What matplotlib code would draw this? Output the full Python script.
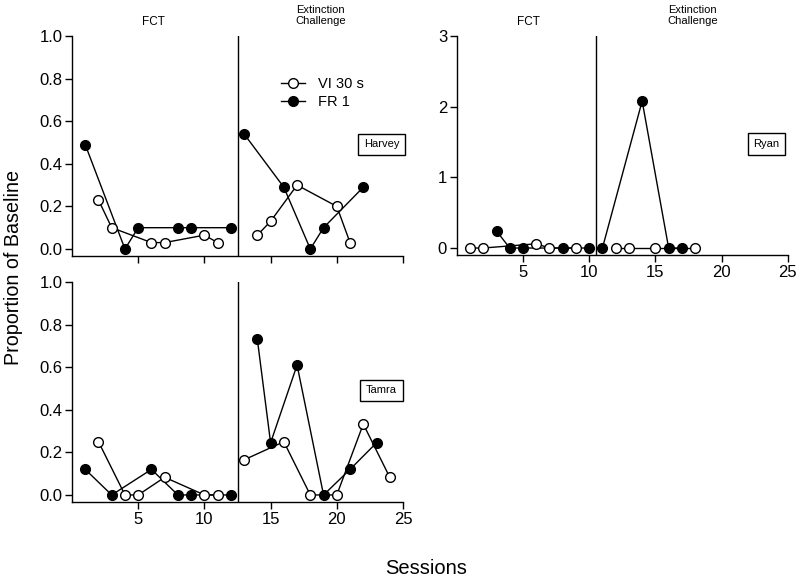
import matplotlib
matplotlib.use("Agg")
import matplotlib.pyplot as plt

plt.rcParams['font.family'] = ['Liberation Sans', 'DejaVu Sans']

# sessions / proportion of baseline, per subject, per schedule, per phase
harvey_vi_fct_x = [2, 3, 6, 7, 10, 11]
harvey_vi_fct_y = [0.23, 0.10, 0.03, 0.03, 0.065, 0.03]
harvey_fr_fct_x = [1, 4, 5, 8, 9, 12]
harvey_fr_fct_y = [0.49, 0.0, 0.10, 0.10, 0.10, 0.10]
harvey_vi_ext_x = [14, 15, 17, 20, 21]
harvey_vi_ext_y = [0.065, 0.13, 0.30, 0.20, 0.03]
harvey_fr_ext_x = [13, 16, 18, 19, 22]
harvey_fr_ext_y = [0.54, 0.29, 0.0, 0.10, 0.29]

ryan_vi_fct_x = [1, 2, 6, 7, 9]
ryan_vi_fct_y = [0, 0, 0.06, 0, 0]
ryan_fr_fct_x = [3, 4, 5, 8, 10]
ryan_fr_fct_y = [0.24, 0, 0, 0, 0]
ryan_vi_ext_x = [12, 13, 15, 18]
ryan_vi_ext_y = [0, 0, 0, 0]
ryan_fr_ext_x = [11, 14, 16, 17]
ryan_fr_ext_y = [0, 2.08, 0, 0]

tamra_vi_fct_x = [2, 4, 5, 7, 10, 11]
tamra_vi_fct_y = [0.25, 0, 0, 0.083, 0, 0]
tamra_fr_fct_x = [1, 3, 6, 8, 9, 12]
tamra_fr_fct_y = [0.12, 0, 0.12, 0, 0, 0]
tamra_vi_ext_x = [13, 16, 18, 20, 22, 24]
tamra_vi_ext_y = [0.165, 0.25, 0, 0, 0.333, 0.083]
tamra_fr_ext_x = [14, 15, 17, 19, 21, 23]
tamra_fr_ext_y = [0.73, 0.245, 0.61, 0, 0.12, 0.245]

x_ticks = [5, 10, 15, 20, 25]

fig = plt.figure(figsize=(8, 5.8), dpi=100)
ax_h = fig.add_axes([0.09, 0.5586, 0.41375, 0.3793])
ax_r = fig.add_axes([0.571, 0.5603, 0.41375, 0.3776])
ax_t = fig.add_axes([0.09, 0.1345, 0.41375, 0.3793])

open_kw = dict(color='black', lw=1, marker='o', ms=7, mfc='white', mec='black', mew=1)
fill_kw = dict(color='black', lw=1, marker='o', ms=7, mfc='black', mec='black', mew=1)


def draw(ax, vi, fr, phase_x, ymax, yticks, yfmt, name, xlabels):
    for xs, ys in fr:
        ax.plot(xs, ys, clip_on=False, zorder=3, **fill_kw)
    for xs, ys in vi:
        ax.plot(xs, ys, clip_on=False, zorder=4, **open_kw)
    ax.axvline(phase_x, color='black', lw=1)
    ax.set_xlim(0, 25)
    ax.set_ylim(-0.033 * ymax, ymax)
    ax.set_xticks(x_ticks)
    if xlabels:
        ax.set_xticklabels([str(t) for t in x_ticks])
    else:
        ax.set_xticklabels([])
    ax.set_yticks(yticks)
    ax.set_yticklabels([yfmt % v for v in yticks])
    for s in ['top', 'right']:
        ax.spines[s].set_visible(False)
    for s in ['left', 'bottom']:
        ax.spines[s].set_linewidth(1)
    ax.tick_params(direction='out', length=5, width=1, labelsize=12, pad=2)
    ax.text(0.935, 0.507, name, transform=ax.transAxes, ha='center', va='center',
            fontsize=8, bbox=dict(boxstyle='square,pad=0.5', fc='white', ec='black', lw=1))


draw(ax_h,
     [(harvey_vi_fct_x, harvey_vi_fct_y), (harvey_vi_ext_x, harvey_vi_ext_y)],
     [(harvey_fr_fct_x, harvey_fr_fct_y), (harvey_fr_ext_x, harvey_fr_ext_y)],
     12.5, 1.0, [0, 0.2, 0.4, 0.6, 0.8, 1.0], '%.1f', 'Harvey', False)
draw(ax_r,
     [(ryan_vi_fct_x, ryan_vi_fct_y), (ryan_vi_ext_x, ryan_vi_ext_y)],
     [(ryan_fr_fct_x, ryan_fr_fct_y), (ryan_fr_ext_x, ryan_fr_ext_y)],
     10.5, 3.0, [0, 1, 2, 3], '%d', 'Ryan', True)
draw(ax_t,
     [(tamra_vi_fct_x, tamra_vi_fct_y), (tamra_vi_ext_x, tamra_vi_ext_y)],
     [(tamra_fr_fct_x, tamra_fr_fct_y), (tamra_fr_ext_x, tamra_fr_ext_y)],
     12.5, 1.0, [0, 0.2, 0.4, 0.6, 0.8, 1.0], '%.1f', 'Tamra', True)

# phase labels
ax_h.text(0.245, 1.064, 'FCT', transform=ax_h.transAxes, ha='center', va='center', fontsize=8.5)
ax_h.text(0.752, 1.095, 'Extinction\nChallenge', transform=ax_h.transAxes, ha='center',
          va='center', fontsize=8, linespacing=1.15)
ax_r.text(0.215, 1.064, 'FCT', transform=ax_r.transAxes, ha='center', va='center', fontsize=8.5)
ax_r.text(0.713, 1.095, 'Extinction\nChallenge', transform=ax_r.transAxes, ha='center',
          va='center', fontsize=8, linespacing=1.15)

# legend
h_vi, = ax_h.plot([], [], **open_kw)
h_fr, = ax_h.plot([], [], **fill_kw)
ax_h.legend([h_vi, h_fr], ['VI 30 s', 'FR 1'], loc='upper left', bbox_to_anchor=(0.63, 0.815),
            frameon=False, fontsize=10.5, handlelength=1.7, handletextpad=0.9,
            labelspacing=0.3, borderpad=0, borderaxespad=0)

fig.text(0.017, 0.538, 'Proportion of Baseline', rotation=90, ha='center', va='center', fontsize=14.2)
fig.text(0.5325, 0.019, 'Sessions', ha='center', va='center', fontsize=14.5)

fig.savefig('out.png', dpi=100)
